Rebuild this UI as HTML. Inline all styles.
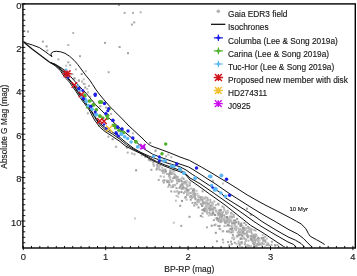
<!DOCTYPE html>
<html><head><meta charset="utf-8"><style>
html,body{margin:0;padding:0;background:#fff;width:357px;height:276px;overflow:hidden}
svg{display:block;will-change:transform}
text{font-family:"Liberation Sans",sans-serif;fill:#1a1a1a;stroke:#1a1a1a;stroke-width:0.15px}
</style></head><body>
<svg width="357" height="276" viewBox="0 0 357 276">
<defs><clipPath id="pc"><rect x="23.6" y="4.6" width="331" height="242.7"/></clipPath></defs>
<g clip-path="url(#pc)">
<rect x="171.8" y="177.4" width="2" height="2" fill="rgb(175,175,175)"/><rect x="197.1" y="199.2" width="2" height="2" fill="rgb(178,178,178)"/><rect x="207.2" y="203.4" width="2" height="2" fill="rgb(162,162,162)"/><rect x="242.8" y="232.4" width="2" height="2" fill="rgb(188,188,188)"/><rect x="148.6" y="158.9" width="2" height="2" fill="rgb(168,168,168)"/><rect x="226.7" y="209.8" width="2" height="2" fill="rgb(182,182,182)"/><rect x="205.4" y="200.4" width="2" height="2" fill="rgb(191,191,191)"/><rect x="221.0" y="214.1" width="2" height="2" fill="rgb(156,156,156)"/><rect x="191.8" y="190.7" width="2" height="2" fill="rgb(162,162,162)"/><rect x="212.9" y="219.1" width="2" height="2" fill="rgb(165,165,165)"/><rect x="238.8" y="245.0" width="2" height="2" fill="rgb(196,196,196)"/><rect x="237.7" y="222.8" width="2" height="2" fill="rgb(153,153,153)"/><rect x="240.7" y="234.2" width="2" height="2" fill="rgb(158,158,158)"/><rect x="196.1" y="203.7" width="2" height="2" fill="rgb(188,188,188)"/><rect x="226.0" y="230.5" width="2" height="2" fill="rgb(153,153,153)"/><rect x="240.6" y="228.7" width="2" height="2" fill="rgb(155,155,155)"/><rect x="243.9" y="228.4" width="2" height="2" fill="rgb(154,154,154)"/><rect x="257.8" y="242.6" width="2" height="2" fill="rgb(186,186,186)"/><rect x="211.4" y="204.7" width="2" height="2" fill="rgb(171,171,171)"/><rect x="237.7" y="242.2" width="2" height="2" fill="rgb(196,196,196)"/><rect x="217.4" y="213.6" width="2" height="2" fill="rgb(158,158,158)"/><rect x="262.5" y="236.7" width="2" height="2" fill="rgb(150,150,150)"/><rect x="173.7" y="184.4" width="2" height="2" fill="rgb(162,162,162)"/><rect x="178.4" y="179.0" width="2" height="2" fill="rgb(167,167,167)"/><rect x="209.9" y="207.2" width="2" height="2" fill="rgb(184,184,184)"/><rect x="183.5" y="181.5" width="2" height="2" fill="rgb(191,191,191)"/><rect x="230.4" y="231.4" width="2" height="2" fill="rgb(150,150,150)"/><rect x="177.0" y="179.3" width="2" height="2" fill="rgb(190,190,190)"/><rect x="194.7" y="198.4" width="2" height="2" fill="rgb(170,170,170)"/><rect x="181.0" y="199.9" width="2" height="2" fill="rgb(151,151,151)"/><rect x="238.8" y="232.9" width="2" height="2" fill="rgb(163,163,163)"/><rect x="169.5" y="170.9" width="2" height="2" fill="rgb(170,170,170)"/><rect x="209.3" y="198.9" width="2" height="2" fill="rgb(170,170,170)"/><rect x="180.0" y="178.0" width="2" height="2" fill="rgb(197,197,197)"/><rect x="214.8" y="231.8" width="2" height="2" fill="rgb(151,151,151)"/><rect x="239.4" y="228.3" width="2" height="2" fill="rgb(191,191,191)"/><rect x="184.0" y="180.6" width="2" height="2" fill="rgb(181,181,181)"/><rect x="240.5" y="242.4" width="2" height="2" fill="rgb(175,175,175)"/><rect x="161.2" y="166.7" width="2" height="2" fill="rgb(189,189,189)"/><rect x="247.2" y="230.6" width="2" height="2" fill="rgb(193,193,193)"/><rect x="225.2" y="211.3" width="2" height="2" fill="rgb(171,171,171)"/><rect x="257.9" y="237.7" width="2" height="2" fill="rgb(161,161,161)"/><rect x="235.1" y="221.3" width="2" height="2" fill="rgb(153,153,153)"/><rect x="274.0" y="244.1" width="2" height="2" fill="rgb(176,176,176)"/><rect x="228.4" y="218.7" width="2" height="2" fill="rgb(200,200,200)"/><rect x="253.6" y="237.2" width="2" height="2" fill="rgb(152,152,152)"/><rect x="247.4" y="245.0" width="2" height="2" fill="rgb(155,155,155)"/><rect x="228.3" y="244.0" width="2" height="2" fill="rgb(190,190,190)"/><rect x="235.0" y="229.1" width="2" height="2" fill="rgb(189,189,189)"/><rect x="164.5" y="169.9" width="2" height="2" fill="rgb(171,171,171)"/><rect x="184.6" y="180.4" width="2" height="2" fill="rgb(199,199,199)"/><rect x="193.7" y="195.7" width="2" height="2" fill="rgb(181,181,181)"/><rect x="187.2" y="189.3" width="2" height="2" fill="rgb(188,188,188)"/><rect x="220.3" y="218.7" width="2" height="2" fill="rgb(175,175,175)"/><rect x="209.6" y="201.2" width="2" height="2" fill="rgb(166,166,166)"/><rect x="164.5" y="169.6" width="2" height="2" fill="rgb(179,179,179)"/><rect x="194.3" y="201.9" width="2" height="2" fill="rgb(150,150,150)"/><rect x="239.7" y="238.0" width="2" height="2" fill="rgb(151,151,151)"/><rect x="191.0" y="196.8" width="2" height="2" fill="rgb(170,170,170)"/><rect x="173.4" y="190.6" width="2" height="2" fill="rgb(186,186,186)"/><rect x="224.3" y="216.0" width="2" height="2" fill="rgb(191,191,191)"/><rect x="227.0" y="241.0" width="2" height="2" fill="rgb(170,170,170)"/><rect x="231.9" y="230.5" width="2" height="2" fill="rgb(153,153,153)"/><rect x="241.2" y="224.7" width="2" height="2" fill="rgb(176,176,176)"/><rect x="226.7" y="212.0" width="2" height="2" fill="rgb(189,189,189)"/><rect x="251.6" y="234.9" width="2" height="2" fill="rgb(195,195,195)"/><rect x="263.7" y="246.0" width="2" height="2" fill="rgb(196,196,196)"/><rect x="203.0" y="197.1" width="2" height="2" fill="rgb(171,171,171)"/><rect x="216.0" y="218.4" width="2" height="2" fill="rgb(160,160,160)"/><rect x="208.6" y="208.3" width="2" height="2" fill="rgb(155,155,155)"/><rect x="239.3" y="225.2" width="2" height="2" fill="rgb(151,151,151)"/><rect x="168.9" y="171.9" width="2" height="2" fill="rgb(159,159,159)"/><rect x="250.7" y="228.4" width="2" height="2" fill="rgb(163,163,163)"/><rect x="217.1" y="202.8" width="2" height="2" fill="rgb(159,159,159)"/><rect x="205.3" y="209.3" width="2" height="2" fill="rgb(183,183,183)"/><rect x="174.9" y="190.7" width="2" height="2" fill="rgb(199,199,199)"/><rect x="162.3" y="171.6" width="2" height="2" fill="rgb(155,155,155)"/><rect x="201.3" y="198.3" width="2" height="2" fill="rgb(172,172,172)"/><rect x="173.6" y="176.1" width="2" height="2" fill="rgb(173,173,173)"/><rect x="224.2" y="222.2" width="2" height="2" fill="rgb(177,177,177)"/><rect x="175.9" y="179.7" width="2" height="2" fill="rgb(172,172,172)"/><rect x="163.3" y="169.8" width="2" height="2" fill="rgb(184,184,184)"/><rect x="237.5" y="240.3" width="2" height="2" fill="rgb(193,193,193)"/><rect x="219.4" y="228.3" width="2" height="2" fill="rgb(187,187,187)"/><rect x="182.0" y="184.5" width="2" height="2" fill="rgb(185,185,185)"/><rect x="216.2" y="216.8" width="2" height="2" fill="rgb(159,159,159)"/><rect x="172.8" y="170.3" width="2" height="2" fill="rgb(192,192,192)"/><rect x="255.2" y="233.7" width="2" height="2" fill="rgb(188,188,188)"/><rect x="166.3" y="173.0" width="2" height="2" fill="rgb(186,186,186)"/><rect x="268.0" y="244.2" width="2" height="2" fill="rgb(171,171,171)"/><rect x="176.6" y="175.9" width="2" height="2" fill="rgb(164,164,164)"/><rect x="191.7" y="192.9" width="2" height="2" fill="rgb(197,197,197)"/><rect x="211.1" y="204.3" width="2" height="2" fill="rgb(189,189,189)"/><rect x="224.7" y="221.3" width="2" height="2" fill="rgb(166,166,166)"/><rect x="168.8" y="184.1" width="2" height="2" fill="rgb(195,195,195)"/><rect x="253.8" y="245.4" width="2" height="2" fill="rgb(180,180,180)"/><rect x="232.3" y="235.9" width="2" height="2" fill="rgb(198,198,198)"/><rect x="232.9" y="219.6" width="2" height="2" fill="rgb(152,152,152)"/><rect x="244.7" y="226.9" width="2" height="2" fill="rgb(199,199,199)"/><rect x="219.6" y="214.3" width="2" height="2" fill="rgb(191,191,191)"/><rect x="204.2" y="201.5" width="2" height="2" fill="rgb(169,169,169)"/><rect x="211.0" y="208.5" width="2" height="2" fill="rgb(191,191,191)"/><rect x="234.9" y="226.2" width="2" height="2" fill="rgb(199,199,199)"/><rect x="193.8" y="195.8" width="2" height="2" fill="rgb(185,185,185)"/><rect x="223.9" y="219.9" width="2" height="2" fill="rgb(195,195,195)"/><rect x="224.1" y="219.1" width="2" height="2" fill="rgb(179,179,179)"/><rect x="175.6" y="194.9" width="2" height="2" fill="rgb(185,185,185)"/><rect x="193.2" y="193.3" width="2" height="2" fill="rgb(167,167,167)"/><rect x="203.3" y="210.2" width="2" height="2" fill="rgb(173,173,173)"/><rect x="226.2" y="220.6" width="2" height="2" fill="rgb(183,183,183)"/><rect x="217.4" y="213.2" width="2" height="2" fill="rgb(183,183,183)"/><rect x="209.5" y="213.6" width="2" height="2" fill="rgb(167,167,167)"/><rect x="189.9" y="192.0" width="2" height="2" fill="rgb(158,158,158)"/><rect x="234.8" y="228.4" width="2" height="2" fill="rgb(166,166,166)"/><rect x="192.5" y="190.3" width="2" height="2" fill="rgb(150,150,150)"/><rect x="249.5" y="228.5" width="2" height="2" fill="rgb(185,185,185)"/><rect x="186.2" y="194.1" width="2" height="2" fill="rgb(180,180,180)"/><rect x="192.5" y="190.4" width="2" height="2" fill="rgb(156,156,156)"/><rect x="247.7" y="230.4" width="2" height="2" fill="rgb(191,191,191)"/><rect x="258.7" y="239.4" width="2" height="2" fill="rgb(199,199,199)"/><rect x="176.1" y="182.3" width="2" height="2" fill="rgb(173,173,173)"/><rect x="171.2" y="172.3" width="2" height="2" fill="rgb(159,159,159)"/><rect x="160.7" y="169.7" width="2" height="2" fill="rgb(190,190,190)"/><rect x="246.3" y="235.1" width="2" height="2" fill="rgb(164,164,164)"/><rect x="251.8" y="240.9" width="2" height="2" fill="rgb(175,175,175)"/><rect x="223.3" y="219.4" width="2" height="2" fill="rgb(198,198,198)"/><rect x="228.1" y="221.5" width="2" height="2" fill="rgb(155,155,155)"/><rect x="254.6" y="239.5" width="2" height="2" fill="rgb(151,151,151)"/><rect x="188.1" y="192.6" width="2" height="2" fill="rgb(189,189,189)"/><rect x="274.2" y="244.6" width="2" height="2" fill="rgb(158,158,158)"/><rect x="208.4" y="211.6" width="2" height="2" fill="rgb(157,157,157)"/><rect x="152.3" y="161.2" width="2" height="2" fill="rgb(153,153,153)"/><rect x="176.4" y="190.3" width="2" height="2" fill="rgb(184,184,184)"/><rect x="155.8" y="163.8" width="2" height="2" fill="rgb(182,182,182)"/><rect x="164.3" y="168.6" width="2" height="2" fill="rgb(163,163,163)"/><rect x="219.2" y="221.2" width="2" height="2" fill="rgb(185,185,185)"/><rect x="183.4" y="182.8" width="2" height="2" fill="rgb(199,199,199)"/><rect x="238.5" y="243.7" width="2" height="2" fill="rgb(161,161,161)"/><rect x="243.5" y="232.9" width="2" height="2" fill="rgb(166,166,166)"/><rect x="162.0" y="171.9" width="2" height="2" fill="rgb(188,188,188)"/><rect x="261.1" y="242.3" width="2" height="2" fill="rgb(173,173,173)"/><rect x="261.6" y="233.9" width="2" height="2" fill="rgb(197,197,197)"/><rect x="251.7" y="236.3" width="2" height="2" fill="rgb(159,159,159)"/><rect x="193.2" y="204.5" width="2" height="2" fill="rgb(161,161,161)"/><rect x="252.9" y="229.0" width="2" height="2" fill="rgb(197,197,197)"/><rect x="260.7" y="244.1" width="2" height="2" fill="rgb(199,199,199)"/><rect x="200.1" y="197.8" width="2" height="2" fill="rgb(160,160,160)"/><rect x="240.8" y="241.0" width="2" height="2" fill="rgb(183,183,183)"/><rect x="180.5" y="191.1" width="2" height="2" fill="rgb(151,151,151)"/><rect x="218.4" y="210.5" width="2" height="2" fill="rgb(172,172,172)"/><rect x="217.3" y="209.5" width="2" height="2" fill="rgb(199,199,199)"/><rect x="179.7" y="184.0" width="2" height="2" fill="rgb(195,195,195)"/><rect x="205.6" y="205.9" width="2" height="2" fill="rgb(165,165,165)"/><rect x="266.4" y="242.8" width="2" height="2" fill="rgb(178,178,178)"/><rect x="247.5" y="235.0" width="2" height="2" fill="rgb(181,181,181)"/><rect x="263.0" y="242.9" width="2" height="2" fill="rgb(163,163,163)"/><rect x="162.8" y="175.7" width="2" height="2" fill="rgb(190,190,190)"/><rect x="185.0" y="187.3" width="2" height="2" fill="rgb(172,172,172)"/><rect x="217.6" y="212.7" width="2" height="2" fill="rgb(174,174,174)"/><rect x="176.3" y="178.8" width="2" height="2" fill="rgb(179,179,179)"/><rect x="223.2" y="214.3" width="2" height="2" fill="rgb(163,163,163)"/><rect x="184.7" y="196.0" width="2" height="2" fill="rgb(170,170,170)"/><rect x="258.8" y="243.9" width="2" height="2" fill="rgb(200,200,200)"/><rect x="189.8" y="195.1" width="2" height="2" fill="rgb(151,151,151)"/><rect x="252.5" y="236.5" width="2" height="2" fill="rgb(156,156,156)"/><rect x="262.1" y="240.0" width="2" height="2" fill="rgb(192,192,192)"/><rect x="211.9" y="212.4" width="2" height="2" fill="rgb(196,196,196)"/><rect x="170.1" y="172.8" width="2" height="2" fill="rgb(150,150,150)"/><rect x="253.0" y="243.3" width="2" height="2" fill="rgb(154,154,154)"/><rect x="248.8" y="228.7" width="2" height="2" fill="rgb(191,191,191)"/><rect x="252.2" y="236.4" width="2" height="2" fill="rgb(175,175,175)"/><rect x="233.8" y="223.0" width="2" height="2" fill="rgb(193,193,193)"/><rect x="251.4" y="238.8" width="2" height="2" fill="rgb(172,172,172)"/><rect x="224.3" y="221.0" width="2" height="2" fill="rgb(153,153,153)"/><rect x="261.9" y="242.6" width="2" height="2" fill="rgb(164,164,164)"/><rect x="181.4" y="176.6" width="2" height="2" fill="rgb(186,186,186)"/><rect x="250.6" y="238.4" width="2" height="2" fill="rgb(174,174,174)"/><rect x="254.0" y="241.2" width="2" height="2" fill="rgb(176,176,176)"/><rect x="267.1" y="242.5" width="2" height="2" fill="rgb(174,174,174)"/><rect x="174.3" y="183.8" width="2" height="2" fill="rgb(192,192,192)"/><rect x="256.9" y="239.6" width="2" height="2" fill="rgb(190,190,190)"/><rect x="242.7" y="226.7" width="2" height="2" fill="rgb(164,164,164)"/><rect x="197.5" y="206.5" width="2" height="2" fill="rgb(151,151,151)"/><rect x="173.0" y="176.9" width="2" height="2" fill="rgb(166,166,166)"/><rect x="161.6" y="169.5" width="2" height="2" fill="rgb(151,151,151)"/><rect x="246.2" y="235.0" width="2" height="2" fill="rgb(166,166,166)"/><rect x="226.5" y="217.1" width="2" height="2" fill="rgb(195,195,195)"/><rect x="210.7" y="207.9" width="2" height="2" fill="rgb(177,177,177)"/><rect x="201.5" y="212.4" width="2" height="2" fill="rgb(165,165,165)"/><rect x="231.9" y="230.6" width="2" height="2" fill="rgb(164,164,164)"/><rect x="223.4" y="220.0" width="2" height="2" fill="rgb(172,172,172)"/><rect x="169.3" y="169.5" width="2" height="2" fill="rgb(163,163,163)"/><rect x="217.5" y="203.6" width="2" height="2" fill="rgb(170,170,170)"/><rect x="199.3" y="196.3" width="2" height="2" fill="rgb(198,198,198)"/><rect x="241.0" y="246.1" width="2" height="2" fill="rgb(177,177,177)"/><rect x="248.9" y="230.6" width="2" height="2" fill="rgb(191,191,191)"/><rect x="265.7" y="244.2" width="2" height="2" fill="rgb(167,167,167)"/><rect x="240.0" y="233.2" width="2" height="2" fill="rgb(169,169,169)"/><rect x="239.8" y="241.4" width="2" height="2" fill="rgb(181,181,181)"/><rect x="147.8" y="158.6" width="2" height="2" fill="rgb(163,163,163)"/><rect x="222.1" y="211.1" width="2" height="2" fill="rgb(186,186,186)"/><rect x="219.3" y="213.9" width="2" height="2" fill="rgb(200,200,200)"/><rect x="173.5" y="176.2" width="2" height="2" fill="rgb(160,160,160)"/><rect x="180.1" y="184.7" width="2" height="2" fill="rgb(180,180,180)"/><rect x="181.5" y="186.2" width="2" height="2" fill="rgb(199,199,199)"/><rect x="162.8" y="181.5" width="2" height="2" fill="rgb(167,167,167)"/><rect x="190.5" y="191.5" width="2" height="2" fill="rgb(198,198,198)"/><rect x="181.8" y="182.2" width="2" height="2" fill="rgb(158,158,158)"/><rect x="242.0" y="226.9" width="2" height="2" fill="rgb(169,169,169)"/><rect x="186.2" y="193.7" width="2" height="2" fill="rgb(168,168,168)"/><rect x="264.1" y="239.4" width="2" height="2" fill="rgb(155,155,155)"/><rect x="230.8" y="228.9" width="2" height="2" fill="rgb(171,171,171)"/><rect x="218.6" y="224.9" width="2" height="2" fill="rgb(150,150,150)"/><rect x="250.0" y="229.4" width="2" height="2" fill="rgb(181,181,181)"/><rect x="200.7" y="197.3" width="2" height="2" fill="rgb(165,165,165)"/><rect x="229.5" y="218.7" width="2" height="2" fill="rgb(160,160,160)"/><rect x="231.7" y="222.0" width="2" height="2" fill="rgb(170,170,170)"/><rect x="204.8" y="205.8" width="2" height="2" fill="rgb(193,193,193)"/><rect x="202.9" y="208.6" width="2" height="2" fill="rgb(189,189,189)"/><rect x="192.4" y="190.0" width="2" height="2" fill="rgb(188,188,188)"/><rect x="194.5" y="194.4" width="2" height="2" fill="rgb(178,178,178)"/><rect x="178.2" y="191.2" width="2" height="2" fill="rgb(163,163,163)"/><rect x="196.4" y="192.7" width="2" height="2" fill="rgb(187,187,187)"/><rect x="201.3" y="196.5" width="2" height="2" fill="rgb(153,153,153)"/><rect x="211.7" y="209.6" width="2" height="2" fill="rgb(200,200,200)"/><rect x="184.3" y="196.7" width="2" height="2" fill="rgb(163,163,163)"/><rect x="198.8" y="195.9" width="2" height="2" fill="rgb(197,197,197)"/><rect x="241.3" y="232.3" width="2" height="2" fill="rgb(173,173,173)"/><rect x="234.4" y="219.4" width="2" height="2" fill="rgb(152,152,152)"/><rect x="241.4" y="225.2" width="2" height="2" fill="rgb(199,199,199)"/><rect x="232.5" y="221.9" width="2" height="2" fill="rgb(199,199,199)"/><rect x="250.8" y="236.3" width="2" height="2" fill="rgb(178,178,178)"/><rect x="156.5" y="165.5" width="2" height="2" fill="rgb(161,161,161)"/><rect x="199.8" y="196.1" width="2" height="2" fill="rgb(177,177,177)"/><rect x="220.1" y="214.0" width="2" height="2" fill="rgb(158,158,158)"/><rect x="219.9" y="209.5" width="2" height="2" fill="rgb(169,169,169)"/><rect x="205.2" y="208.9" width="2" height="2" fill="rgb(193,193,193)"/><rect x="247.1" y="226.2" width="2" height="2" fill="rgb(151,151,151)"/><rect x="187.2" y="189.6" width="2" height="2" fill="rgb(157,157,157)"/><rect x="230.4" y="220.6" width="2" height="2" fill="rgb(159,159,159)"/><rect x="201.0" y="204.3" width="2" height="2" fill="rgb(150,150,150)"/><rect x="174.7" y="176.2" width="2" height="2" fill="rgb(158,158,158)"/><rect x="211.2" y="207.5" width="2" height="2" fill="rgb(169,169,169)"/><rect x="205.3" y="204.7" width="2" height="2" fill="rgb(159,159,159)"/><rect x="223.2" y="208.3" width="2" height="2" fill="rgb(182,182,182)"/><rect x="171.6" y="169.1" width="2" height="2" fill="rgb(197,197,197)"/><rect x="238.2" y="233.7" width="2" height="2" fill="rgb(172,172,172)"/><rect x="206.2" y="201.9" width="2" height="2" fill="rgb(156,156,156)"/><rect x="226.0" y="210.5" width="2" height="2" fill="rgb(198,198,198)"/><rect x="179.3" y="185.8" width="2" height="2" fill="rgb(160,160,160)"/><rect x="257.4" y="240.9" width="2" height="2" fill="rgb(179,179,179)"/><rect x="204.6" y="196.2" width="2" height="2" fill="rgb(193,193,193)"/><rect x="234.1" y="227.8" width="2" height="2" fill="rgb(175,175,175)"/><rect x="240.0" y="224.6" width="2" height="2" fill="rgb(155,155,155)"/><rect x="227.3" y="220.8" width="2" height="2" fill="rgb(176,176,176)"/><rect x="155.9" y="167.3" width="2" height="2" fill="rgb(171,171,171)"/><rect x="157.7" y="167.9" width="2" height="2" fill="rgb(191,191,191)"/><rect x="232.8" y="215.6" width="2" height="2" fill="rgb(192,192,192)"/><rect x="214.8" y="217.3" width="2" height="2" fill="rgb(195,195,195)"/><rect x="230.3" y="225.2" width="2" height="2" fill="rgb(175,175,175)"/><rect x="256.2" y="243.4" width="2" height="2" fill="rgb(171,171,171)"/><rect x="164.6" y="170.8" width="2" height="2" fill="rgb(152,152,152)"/><rect x="227.4" y="220.6" width="2" height="2" fill="rgb(187,187,187)"/><rect x="236.6" y="234.7" width="2" height="2" fill="rgb(165,165,165)"/><rect x="201.5" y="209.0" width="2" height="2" fill="rgb(162,162,162)"/><rect x="201.6" y="215.9" width="2" height="2" fill="rgb(200,200,200)"/><rect x="206.4" y="202.7" width="2" height="2" fill="rgb(190,190,190)"/><rect x="177.3" y="179.5" width="2" height="2" fill="rgb(194,194,194)"/><rect x="221.1" y="215.3" width="2" height="2" fill="rgb(150,150,150)"/><rect x="231.4" y="215.8" width="2" height="2" fill="rgb(152,152,152)"/><rect x="243.1" y="228.4" width="2" height="2" fill="rgb(158,158,158)"/><rect x="255.9" y="238.2" width="2" height="2" fill="rgb(182,182,182)"/><rect x="229.1" y="231.3" width="2" height="2" fill="rgb(188,188,188)"/><rect x="201.7" y="209.0" width="2" height="2" fill="rgb(164,164,164)"/><rect x="168.7" y="176.9" width="2" height="2" fill="rgb(186,186,186)"/><rect x="185.4" y="181.9" width="2" height="2" fill="rgb(177,177,177)"/><rect x="239.5" y="231.7" width="2" height="2" fill="rgb(194,194,194)"/><rect x="201.5" y="199.4" width="2" height="2" fill="rgb(156,156,156)"/><rect x="234.7" y="228.4" width="2" height="2" fill="rgb(196,196,196)"/><rect x="240.3" y="222.5" width="2" height="2" fill="rgb(151,151,151)"/><rect x="168.2" y="173.2" width="2" height="2" fill="rgb(153,153,153)"/><rect x="230.7" y="216.0" width="2" height="2" fill="rgb(170,170,170)"/><rect x="228.8" y="215.8" width="2" height="2" fill="rgb(154,154,154)"/><rect x="205.7" y="208.7" width="2" height="2" fill="rgb(157,157,157)"/><rect x="254.0" y="235.7" width="2" height="2" fill="rgb(157,157,157)"/><rect x="249.7" y="235.5" width="2" height="2" fill="rgb(181,181,181)"/><rect x="257.1" y="236.8" width="2" height="2" fill="rgb(158,158,158)"/><rect x="198.9" y="198.7" width="2" height="2" fill="rgb(183,183,183)"/><rect x="167.6" y="179.9" width="2" height="2" fill="rgb(177,177,177)"/><rect x="220.7" y="212.2" width="2" height="2" fill="rgb(150,150,150)"/><rect x="240.0" y="223.7" width="2" height="2" fill="rgb(161,161,161)"/><rect x="250.2" y="235.2" width="2" height="2" fill="rgb(164,164,164)"/><rect x="228.7" y="216.4" width="2" height="2" fill="rgb(193,193,193)"/><rect x="203.7" y="197.8" width="2" height="2" fill="rgb(184,184,184)"/><rect x="182.6" y="177.8" width="2" height="2" fill="rgb(159,159,159)"/><rect x="253.5" y="245.3" width="2" height="2" fill="rgb(190,190,190)"/><rect x="230.2" y="219.5" width="2" height="2" fill="rgb(197,197,197)"/><rect x="172.2" y="184.0" width="2" height="2" fill="rgb(184,184,184)"/><rect x="229.4" y="215.4" width="2" height="2" fill="rgb(182,182,182)"/><rect x="219.1" y="209.1" width="2" height="2" fill="rgb(157,157,157)"/><rect x="261.2" y="237.5" width="2" height="2" fill="rgb(183,183,183)"/><rect x="199.9" y="203.1" width="2" height="2" fill="rgb(172,172,172)"/><rect x="227.6" y="218.4" width="2" height="2" fill="rgb(181,181,181)"/><rect x="239.8" y="223.7" width="2" height="2" fill="rgb(154,154,154)"/><rect x="204.4" y="210.1" width="2" height="2" fill="rgb(172,172,172)"/><rect x="228.0" y="224.6" width="2" height="2" fill="rgb(163,163,163)"/><rect x="181.8" y="187.6" width="2" height="2" fill="rgb(164,164,164)"/><rect x="203.1" y="208.0" width="2" height="2" fill="rgb(196,196,196)"/><rect x="213.6" y="224.2" width="2" height="2" fill="rgb(154,154,154)"/><rect x="264.5" y="240.9" width="2" height="2" fill="rgb(167,167,167)"/><rect x="205.4" y="199.7" width="2" height="2" fill="rgb(195,195,195)"/><rect x="200.3" y="196.8" width="2" height="2" fill="rgb(161,161,161)"/><rect x="170.6" y="180.6" width="2" height="2" fill="rgb(150,150,150)"/><rect x="178.1" y="180.3" width="2" height="2" fill="rgb(166,166,166)"/><rect x="270.9" y="240.8" width="2" height="2" fill="rgb(167,167,167)"/><rect x="188.8" y="184.4" width="2" height="2" fill="rgb(154,154,154)"/><rect x="248.5" y="227.4" width="2" height="2" fill="rgb(152,152,152)"/><rect x="193.6" y="192.3" width="2" height="2" fill="rgb(162,162,162)"/><rect x="187.6" y="192.2" width="2" height="2" fill="rgb(182,182,182)"/><rect x="238.3" y="229.9" width="2" height="2" fill="rgb(153,153,153)"/><rect x="236.6" y="231.6" width="2" height="2" fill="rgb(176,176,176)"/><rect x="189.1" y="187.9" width="2" height="2" fill="rgb(200,200,200)"/><rect x="165.9" y="173.0" width="2" height="2" fill="rgb(185,185,185)"/><rect x="192.9" y="188.1" width="2" height="2" fill="rgb(173,173,173)"/><rect x="230.1" y="211.9" width="2" height="2" fill="rgb(167,167,167)"/><rect x="239.7" y="237.3" width="2" height="2" fill="rgb(150,150,150)"/><rect x="217.1" y="211.6" width="2" height="2" fill="rgb(170,170,170)"/><rect x="185.9" y="179.7" width="2" height="2" fill="rgb(194,194,194)"/><rect x="260.6" y="237.1" width="2" height="2" fill="rgb(152,152,152)"/><rect x="223.0" y="206.7" width="2" height="2" fill="rgb(191,191,191)"/><rect x="221.0" y="212.9" width="2" height="2" fill="rgb(179,179,179)"/><rect x="185.6" y="198.7" width="2" height="2" fill="rgb(184,184,184)"/><rect x="202.3" y="201.2" width="2" height="2" fill="rgb(168,168,168)"/><rect x="197.6" y="194.8" width="2" height="2" fill="rgb(185,185,185)"/><rect x="182.9" y="192.1" width="2" height="2" fill="rgb(171,171,171)"/><rect x="191.3" y="192.2" width="2" height="2" fill="rgb(194,194,194)"/><rect x="211.1" y="212.5" width="2" height="2" fill="rgb(176,176,176)"/><rect x="262.9" y="242.9" width="2" height="2" fill="rgb(197,197,197)"/><rect x="223.6" y="209.6" width="2" height="2" fill="rgb(195,195,195)"/><rect x="221.3" y="214.3" width="2" height="2" fill="rgb(167,167,167)"/><rect x="197.6" y="196.6" width="2" height="2" fill="rgb(175,175,175)"/><rect x="222.8" y="218.0" width="2" height="2" fill="rgb(177,177,177)"/><rect x="168.1" y="181.7" width="2" height="2" fill="rgb(170,170,170)"/><rect x="183.5" y="187.5" width="2" height="2" fill="rgb(184,184,184)"/><rect x="243.6" y="229.2" width="2" height="2" fill="rgb(176,176,176)"/><rect x="189.1" y="195.9" width="2" height="2" fill="rgb(174,174,174)"/><rect x="212.2" y="211.4" width="2" height="2" fill="rgb(159,159,159)"/><rect x="218.7" y="209.4" width="2" height="2" fill="rgb(174,174,174)"/><rect x="255.7" y="235.2" width="2" height="2" fill="rgb(198,198,198)"/><rect x="253.6" y="238.9" width="2" height="2" fill="rgb(174,174,174)"/><rect x="225.1" y="211.8" width="2" height="2" fill="rgb(176,176,176)"/><rect x="204.8" y="207.5" width="2" height="2" fill="rgb(159,159,159)"/><rect x="218.8" y="215.7" width="2" height="2" fill="rgb(190,190,190)"/><rect x="212.2" y="212.7" width="2" height="2" fill="rgb(150,150,150)"/><rect x="231.1" y="222.6" width="2" height="2" fill="rgb(165,165,165)"/><rect x="233.9" y="223.8" width="2" height="2" fill="rgb(188,188,188)"/><rect x="221.8" y="211.5" width="2" height="2" fill="rgb(182,182,182)"/><rect x="191.5" y="201.9" width="2" height="2" fill="rgb(166,166,166)"/><rect x="167.9" y="175.1" width="2" height="2" fill="rgb(194,194,194)"/><rect x="245.7" y="227.5" width="2" height="2" fill="rgb(189,189,189)"/><rect x="249.9" y="245.0" width="2" height="2" fill="rgb(196,196,196)"/><rect x="181.3" y="186.5" width="2" height="2" fill="rgb(174,174,174)"/><rect x="149.8" y="159.6" width="2" height="2" fill="rgb(165,165,165)"/><rect x="219.9" y="219.6" width="2" height="2" fill="rgb(162,162,162)"/><rect x="223.0" y="217.5" width="2" height="2" fill="rgb(192,192,192)"/><rect x="208.8" y="208.7" width="2" height="2" fill="rgb(157,157,157)"/><rect x="236.2" y="217.9" width="2" height="2" fill="rgb(155,155,155)"/><rect x="238.9" y="228.2" width="2" height="2" fill="rgb(189,189,189)"/><rect x="187.2" y="194.1" width="2" height="2" fill="rgb(200,200,200)"/><rect x="219.6" y="208.9" width="2" height="2" fill="rgb(152,152,152)"/><rect x="244.1" y="241.3" width="2" height="2" fill="rgb(195,195,195)"/><rect x="219.3" y="216.4" width="2" height="2" fill="rgb(153,153,153)"/><rect x="247.7" y="244.7" width="2" height="2" fill="rgb(175,175,175)"/><rect x="231.4" y="227.2" width="2" height="2" fill="rgb(194,194,194)"/><rect x="190.6" y="187.5" width="2" height="2" fill="rgb(185,185,185)"/><rect x="218.4" y="227.6" width="2" height="2" fill="rgb(170,170,170)"/><rect x="212.0" y="202.9" width="2" height="2" fill="rgb(193,193,193)"/><rect x="207.7" y="214.5" width="2" height="2" fill="rgb(191,191,191)"/><rect x="166.0" y="179.7" width="2" height="2" fill="rgb(178,178,178)"/><rect x="244.9" y="240.0" width="2" height="2" fill="rgb(185,185,185)"/><rect x="204.0" y="206.5" width="2" height="2" fill="rgb(192,192,192)"/><rect x="235.4" y="225.5" width="2" height="2" fill="rgb(170,170,170)"/><rect x="214.6" y="223.5" width="2" height="2" fill="rgb(179,179,179)"/><rect x="235.8" y="235.2" width="2" height="2" fill="rgb(186,186,186)"/><rect x="193.5" y="193.1" width="2" height="2" fill="rgb(150,150,150)"/><rect x="186.5" y="185.5" width="2" height="2" fill="rgb(180,180,180)"/><rect x="233.3" y="225.1" width="2" height="2" fill="rgb(197,197,197)"/><rect x="206.2" y="205.5" width="2" height="2" fill="rgb(191,191,191)"/><rect x="244.0" y="233.2" width="2" height="2" fill="rgb(180,180,180)"/><rect x="204.9" y="202.4" width="2" height="2" fill="rgb(182,182,182)"/><rect x="241.1" y="241.5" width="2" height="2" fill="rgb(171,171,171)"/><rect x="237.7" y="228.3" width="2" height="2" fill="rgb(187,187,187)"/><rect x="159.0" y="164.7" width="2" height="2" fill="rgb(184,184,184)"/><rect x="241.6" y="237.7" width="2" height="2" fill="rgb(174,174,174)"/><rect x="221.5" y="205.6" width="2" height="2" fill="rgb(165,165,165)"/><rect x="231.4" y="213.0" width="2" height="2" fill="rgb(190,190,190)"/><rect x="157.4" y="166.8" width="2" height="2" fill="rgb(200,200,200)"/><rect x="173.4" y="170.4" width="2" height="2" fill="rgb(197,197,197)"/><rect x="227.8" y="230.2" width="2" height="2" fill="rgb(174,174,174)"/><rect x="217.2" y="225.0" width="2" height="2" fill="rgb(172,172,172)"/><rect x="225.8" y="221.8" width="2" height="2" fill="rgb(195,195,195)"/><rect x="201.3" y="204.9" width="2" height="2" fill="rgb(154,154,154)"/><rect x="161.8" y="170.5" width="2" height="2" fill="rgb(175,175,175)"/><rect x="162.8" y="168.6" width="2" height="2" fill="rgb(183,183,183)"/><rect x="217.6" y="213.8" width="2" height="2" fill="rgb(167,167,167)"/><rect x="237.6" y="233.3" width="2" height="2" fill="rgb(189,189,189)"/><rect x="232.2" y="230.8" width="2" height="2" fill="rgb(192,192,192)"/><rect x="241.0" y="228.8" width="2" height="2" fill="rgb(193,193,193)"/><rect x="212.4" y="208.7" width="2" height="2" fill="rgb(170,170,170)"/><rect x="226.3" y="217.5" width="2" height="2" fill="rgb(154,154,154)"/><rect x="246.4" y="230.5" width="2" height="2" fill="rgb(190,190,190)"/><rect x="225.5" y="212.8" width="2" height="2" fill="rgb(184,184,184)"/><rect x="191.8" y="193.2" width="2" height="2" fill="rgb(192,192,192)"/><rect x="246.9" y="236.3" width="2" height="2" fill="rgb(164,164,164)"/><rect x="246.3" y="244.8" width="2" height="2" fill="rgb(189,189,189)"/><rect x="236.5" y="227.1" width="2" height="2" fill="rgb(198,198,198)"/><rect x="240.1" y="229.7" width="2" height="2" fill="rgb(166,166,166)"/><rect x="244.3" y="237.9" width="2" height="2" fill="rgb(166,166,166)"/><rect x="221.3" y="217.3" width="2" height="2" fill="rgb(180,180,180)"/><rect x="163.1" y="172.2" width="2" height="2" fill="rgb(196,196,196)"/><rect x="213.5" y="207.1" width="2" height="2" fill="rgb(172,172,172)"/><rect x="152.8" y="164.8" width="2" height="2" fill="rgb(183,183,183)"/><rect x="225.6" y="219.5" width="2" height="2" fill="rgb(187,187,187)"/><rect x="233.5" y="227.5" width="2" height="2" fill="rgb(180,180,180)"/><rect x="239.2" y="230.7" width="2" height="2" fill="rgb(186,186,186)"/><rect x="249.7" y="237.8" width="2" height="2" fill="rgb(164,164,164)"/><rect x="252.9" y="233.8" width="2" height="2" fill="rgb(159,159,159)"/><rect x="188.8" y="181.8" width="2" height="2" fill="rgb(154,154,154)"/><rect x="195.6" y="189.9" width="2" height="2" fill="rgb(198,198,198)"/><rect x="248.0" y="228.1" width="2" height="2" fill="rgb(183,183,183)"/><rect x="239.5" y="242.3" width="2" height="2" fill="rgb(173,173,173)"/><rect x="198.7" y="199.3" width="2" height="2" fill="rgb(183,183,183)"/><rect x="257.2" y="243.6" width="2" height="2" fill="rgb(163,163,163)"/><rect x="232.6" y="216.0" width="2" height="2" fill="rgb(183,183,183)"/><rect x="205.9" y="203.4" width="2" height="2" fill="rgb(160,160,160)"/><rect x="231.0" y="216.4" width="2" height="2" fill="rgb(173,173,173)"/><rect x="193.4" y="194.8" width="2" height="2" fill="rgb(165,165,165)"/><rect x="186.3" y="185.8" width="2" height="2" fill="rgb(193,193,193)"/><rect x="237.4" y="220.9" width="2" height="2" fill="rgb(161,161,161)"/><rect x="168.2" y="184.0" width="2" height="2" fill="rgb(159,159,159)"/><rect x="221.6" y="230.5" width="2" height="2" fill="rgb(192,192,192)"/><rect x="245.1" y="224.0" width="2" height="2" fill="rgb(179,179,179)"/><rect x="150.4" y="168.8" width="2" height="2" fill="rgb(161,161,161)"/><rect x="246.3" y="226.9" width="2" height="2" fill="rgb(190,190,190)"/><rect x="248.3" y="227.9" width="2" height="2" fill="rgb(191,191,191)"/><rect x="258.7" y="242.7" width="2" height="2" fill="rgb(152,152,152)"/><rect x="209.7" y="209.2" width="2" height="2" fill="rgb(170,170,170)"/><rect x="186.1" y="188.6" width="2" height="2" fill="rgb(174,174,174)"/><rect x="270.5" y="243.9" width="2" height="2" fill="rgb(173,173,173)"/><rect x="231.2" y="227.4" width="2" height="2" fill="rgb(177,177,177)"/><rect x="241.5" y="235.1" width="2" height="2" fill="rgb(157,157,157)"/><rect x="213.8" y="213.9" width="2" height="2" fill="rgb(176,176,176)"/><rect x="202.9" y="208.0" width="2" height="2" fill="rgb(159,159,159)"/><rect x="251.8" y="241.9" width="2" height="2" fill="rgb(194,194,194)"/><rect x="252.4" y="242.5" width="2" height="2" fill="rgb(166,166,166)"/><rect x="206.8" y="199.0" width="2" height="2" fill="rgb(174,174,174)"/><rect x="173.8" y="173.7" width="2" height="2" fill="rgb(156,156,156)"/><rect x="227.4" y="230.5" width="2" height="2" fill="rgb(173,173,173)"/><rect x="185.9" y="191.5" width="2" height="2" fill="rgb(172,172,172)"/><rect x="207.7" y="207.1" width="2" height="2" fill="rgb(192,192,192)"/><rect x="250.9" y="232.8" width="2" height="2" fill="rgb(183,183,183)"/><rect x="197.5" y="201.3" width="2" height="2" fill="rgb(183,183,183)"/><rect x="254.7" y="233.7" width="2" height="2" fill="rgb(169,169,169)"/><rect x="258.6" y="242.8" width="2" height="2" fill="rgb(178,178,178)"/><rect x="214.3" y="207.5" width="2" height="2" fill="rgb(192,192,192)"/><rect x="217.5" y="220.1" width="2" height="2" fill="rgb(155,155,155)"/><rect x="232.7" y="222.2" width="2" height="2" fill="rgb(167,167,167)"/><rect x="232.8" y="238.2" width="2" height="2" fill="rgb(175,175,175)"/><rect x="246.3" y="233.7" width="2" height="2" fill="rgb(168,168,168)"/><rect x="194.6" y="202.9" width="2" height="2" fill="rgb(178,178,178)"/><rect x="226.0" y="224.7" width="2" height="2" fill="rgb(194,194,194)"/><rect x="184.9" y="190.6" width="2" height="2" fill="rgb(157,157,157)"/><rect x="216.4" y="218.5" width="2" height="2" fill="rgb(178,178,178)"/><rect x="185.5" y="183.6" width="2" height="2" fill="rgb(190,190,190)"/><rect x="223.5" y="225.1" width="2" height="2" fill="rgb(180,180,180)"/><rect x="205.6" y="203.9" width="2" height="2" fill="rgb(196,196,196)"/><rect x="262.4" y="238.8" width="2" height="2" fill="rgb(161,161,161)"/><rect x="235.7" y="242.8" width="2" height="2" fill="rgb(198,198,198)"/><rect x="245.3" y="238.8" width="2" height="2" fill="rgb(183,183,183)"/><rect x="194.2" y="197.3" width="2" height="2" fill="rgb(159,159,159)"/><rect x="211.2" y="213.7" width="2" height="2" fill="rgb(150,150,150)"/><rect x="171.1" y="185.3" width="2" height="2" fill="rgb(193,193,193)"/><rect x="243.9" y="243.3" width="2" height="2" fill="rgb(158,158,158)"/><rect x="193.4" y="189.3" width="2" height="2" fill="rgb(173,173,173)"/><rect x="255.7" y="244.8" width="2" height="2" fill="rgb(181,181,181)"/><rect x="204.7" y="196.8" width="2" height="2" fill="rgb(183,183,183)"/><rect x="228.8" y="228.5" width="2" height="2" fill="rgb(192,192,192)"/><rect x="252.3" y="235.5" width="2" height="2" fill="rgb(165,165,165)"/><rect x="201.0" y="196.7" width="2" height="2" fill="rgb(189,189,189)"/><rect x="152.5" y="163.4" width="2" height="2" fill="rgb(173,173,173)"/><rect x="205.4" y="209.6" width="2" height="2" fill="rgb(183,183,183)"/><rect x="237.7" y="230.7" width="2" height="2" fill="rgb(171,171,171)"/><rect x="190.6" y="195.3" width="2" height="2" fill="rgb(174,174,174)"/><rect x="207.6" y="203.2" width="2" height="2" fill="rgb(166,166,166)"/><rect x="233.3" y="222.2" width="2" height="2" fill="rgb(151,151,151)"/><rect x="140.7" y="154.3" width="2" height="2" fill="rgb(185,185,185)"/><rect x="207.9" y="207.1" width="2" height="2" fill="rgb(162,162,162)"/><rect x="216.4" y="217.7" width="2" height="2" fill="rgb(150,150,150)"/><rect x="214.9" y="204.0" width="2" height="2" fill="rgb(186,186,186)"/><rect x="201.6" y="190.3" width="2" height="2" fill="rgb(166,166,166)"/><rect x="192.0" y="189.3" width="2" height="2" fill="rgb(153,153,153)"/><rect x="172.5" y="169.7" width="2" height="2" fill="rgb(187,187,187)"/><rect x="229.4" y="228.0" width="2" height="2" fill="rgb(161,161,161)"/><rect x="217.9" y="218.0" width="2" height="2" fill="rgb(169,169,169)"/><rect x="172.2" y="169.1" width="2" height="2" fill="rgb(195,195,195)"/><rect x="182.1" y="180.9" width="2" height="2" fill="rgb(184,184,184)"/><rect x="201.7" y="201.8" width="2" height="2" fill="rgb(167,167,167)"/><rect x="196.9" y="199.0" width="2" height="2" fill="rgb(170,170,170)"/><rect x="177.7" y="180.2" width="2" height="2" fill="rgb(166,166,166)"/><rect x="156.7" y="163.7" width="2" height="2" fill="rgb(165,165,165)"/><rect x="219.0" y="212.4" width="2" height="2" fill="rgb(166,166,166)"/><rect x="222.2" y="230.0" width="2" height="2" fill="rgb(178,178,178)"/><rect x="242.2" y="226.9" width="2" height="2" fill="rgb(155,155,155)"/><rect x="191.9" y="196.0" width="2" height="2" fill="rgb(183,183,183)"/><rect x="223.8" y="216.8" width="2" height="2" fill="rgb(190,190,190)"/><rect x="243.0" y="236.7" width="2" height="2" fill="rgb(181,181,181)"/><rect x="213.4" y="206.6" width="2" height="2" fill="rgb(155,155,155)"/><rect x="231.9" y="233.9" width="2" height="2" fill="rgb(162,162,162)"/><rect x="202.9" y="202.5" width="2" height="2" fill="rgb(158,158,158)"/><rect x="186.5" y="184.2" width="2" height="2" fill="rgb(177,177,177)"/><rect x="188.1" y="181.2" width="2" height="2" fill="rgb(200,200,200)"/><rect x="168.3" y="174.6" width="2" height="2" fill="rgb(168,168,168)"/><rect x="171.4" y="173.1" width="2" height="2" fill="rgb(189,189,189)"/><rect x="265.9" y="237.6" width="2" height="2" fill="rgb(199,199,199)"/><rect x="206.2" y="212.4" width="2" height="2" fill="rgb(173,173,173)"/><rect x="226.0" y="216.0" width="2" height="2" fill="rgb(152,152,152)"/><rect x="206.2" y="208.8" width="2" height="2" fill="rgb(195,195,195)"/><rect x="228.6" y="219.6" width="2" height="2" fill="rgb(178,178,178)"/><rect x="175.0" y="175.2" width="2" height="2" fill="rgb(174,174,174)"/><rect x="215.0" y="209.7" width="2" height="2" fill="rgb(173,173,173)"/><rect x="239.0" y="230.5" width="2" height="2" fill="rgb(152,152,152)"/><rect x="171.7" y="180.0" width="2" height="2" fill="rgb(195,195,195)"/><rect x="239.2" y="229.9" width="2" height="2" fill="rgb(198,198,198)"/><rect x="245.6" y="232.0" width="2" height="2" fill="rgb(168,168,168)"/><rect x="225.4" y="221.2" width="2" height="2" fill="rgb(176,176,176)"/><rect x="219.9" y="221.0" width="2" height="2" fill="rgb(177,177,177)"/><rect x="172.9" y="173.0" width="2" height="2" fill="rgb(191,191,191)"/><rect x="247.5" y="239.8" width="2" height="2" fill="rgb(188,188,188)"/><rect x="220.3" y="220.1" width="2" height="2" fill="rgb(166,166,166)"/><rect x="180.8" y="188.1" width="2" height="2" fill="rgb(172,172,172)"/><rect x="251.5" y="239.6" width="2" height="2" fill="rgb(165,165,165)"/><rect x="219.6" y="216.4" width="2" height="2" fill="rgb(174,174,174)"/><rect x="246.6" y="243.8" width="2" height="2" fill="rgb(187,187,187)"/><rect x="182.6" y="186.4" width="2" height="2" fill="rgb(158,158,158)"/><rect x="169.2" y="176.0" width="2" height="2" fill="rgb(189,189,189)"/><rect x="155.6" y="168.5" width="2" height="2" fill="rgb(162,162,162)"/><rect x="202.6" y="197.1" width="2" height="2" fill="rgb(195,195,195)"/><rect x="198.4" y="200.5" width="2" height="2" fill="rgb(187,187,187)"/><rect x="209.3" y="205.7" width="2" height="2" fill="rgb(173,173,173)"/><rect x="166.4" y="181.1" width="2" height="2" fill="rgb(154,154,154)"/><rect x="185.0" y="190.1" width="2" height="2" fill="rgb(192,192,192)"/><rect x="183.9" y="181.4" width="2" height="2" fill="rgb(163,163,163)"/><rect x="255.2" y="245.0" width="2" height="2" fill="rgb(171,171,171)"/><rect x="185.9" y="188.7" width="2" height="2" fill="rgb(154,154,154)"/><rect x="250.1" y="238.7" width="2" height="2" fill="rgb(155,155,155)"/><rect x="215.4" y="211.2" width="2" height="2" fill="rgb(198,198,198)"/><rect x="246.1" y="230.5" width="2" height="2" fill="rgb(178,178,178)"/><rect x="250.2" y="231.1" width="2" height="2" fill="rgb(174,174,174)"/><rect x="254.5" y="229.5" width="2" height="2" fill="rgb(175,175,175)"/><rect x="175.6" y="177.6" width="2" height="2" fill="rgb(183,183,183)"/><rect x="158.9" y="168.7" width="2" height="2" fill="rgb(176,176,176)"/><rect x="208.3" y="202.4" width="2" height="2" fill="rgb(181,181,181)"/><rect x="233.4" y="237.2" width="2" height="2" fill="rgb(191,191,191)"/><rect x="197.3" y="194.9" width="2" height="2" fill="rgb(198,198,198)"/><rect x="210.6" y="203.9" width="2" height="2" fill="rgb(200,200,200)"/><rect x="199.8" y="214.9" width="2" height="2" fill="rgb(151,151,151)"/><rect x="187.2" y="189.3" width="2" height="2" fill="rgb(156,156,156)"/><rect x="240.1" y="230.6" width="2" height="2" fill="rgb(187,187,187)"/><rect x="230.6" y="225.1" width="2" height="2" fill="rgb(186,186,186)"/><rect x="206.5" y="197.0" width="2" height="2" fill="rgb(179,179,179)"/><rect x="169.4" y="178.9" width="2" height="2" fill="rgb(179,179,179)"/><rect x="231.1" y="237.1" width="2" height="2" fill="rgb(194,194,194)"/><rect x="204.1" y="202.0" width="2" height="2" fill="rgb(177,177,177)"/><rect x="175.2" y="177.3" width="2" height="2" fill="rgb(176,176,176)"/><rect x="276.4" y="244.0" width="2" height="2" fill="rgb(180,180,180)"/><rect x="230.8" y="243.1" width="2" height="2" fill="rgb(161,161,161)"/><rect x="230.9" y="227.5" width="2" height="2" fill="rgb(154,154,154)"/><rect x="239.4" y="242.1" width="2" height="2" fill="rgb(178,178,178)"/><rect x="205.6" y="210.7" width="2" height="2" fill="rgb(175,175,175)"/><rect x="232.8" y="213.9" width="2" height="2" fill="rgb(181,181,181)"/><rect x="178.6" y="186.9" width="2" height="2" fill="rgb(158,158,158)"/><rect x="264.1" y="235.7" width="2" height="2" fill="rgb(182,182,182)"/><rect x="170.7" y="170.1" width="2" height="2" fill="rgb(198,198,198)"/><rect x="189.7" y="198.7" width="2" height="2" fill="rgb(150,150,150)"/><rect x="207.1" y="204.6" width="2" height="2" fill="rgb(192,192,192)"/><rect x="171.8" y="186.0" width="2" height="2" fill="rgb(164,164,164)"/><rect x="206.5" y="200.7" width="2" height="2" fill="rgb(197,197,197)"/><rect x="243.4" y="222.0" width="2" height="2" fill="rgb(162,162,162)"/><rect x="180.9" y="184.4" width="2" height="2" fill="rgb(175,175,175)"/><rect x="255.2" y="242.9" width="2" height="2" fill="rgb(184,184,184)"/><rect x="227.1" y="223.9" width="2" height="2" fill="rgb(152,152,152)"/><rect x="158.1" y="166.0" width="2" height="2" fill="rgb(193,193,193)"/><rect x="236.3" y="235.5" width="2" height="2" fill="rgb(168,168,168)"/><rect x="210.9" y="214.1" width="2" height="2" fill="rgb(185,185,185)"/><rect x="226.2" y="219.9" width="2" height="2" fill="rgb(171,171,171)"/><rect x="206.4" y="206.2" width="2" height="2" fill="rgb(199,199,199)"/><rect x="213.3" y="200.5" width="2" height="2" fill="rgb(174,174,174)"/><rect x="230.3" y="213.5" width="2" height="2" fill="rgb(199,199,199)"/><rect x="242.0" y="230.3" width="2" height="2" fill="rgb(179,179,179)"/><rect x="180.9" y="183.2" width="2" height="2" fill="rgb(157,157,157)"/><rect x="238.3" y="234.2" width="2" height="2" fill="rgb(155,155,155)"/><rect x="233.8" y="241.7" width="2" height="2" fill="rgb(164,164,164)"/><rect x="163.5" y="179.3" width="2" height="2" fill="rgb(154,154,154)"/><rect x="235.0" y="226.4" width="2" height="2" fill="rgb(186,186,186)"/><rect x="214.2" y="214.0" width="2" height="2" fill="rgb(150,150,150)"/><rect x="242.3" y="231.0" width="2" height="2" fill="rgb(156,156,156)"/><rect x="253.7" y="233.9" width="2" height="2" fill="rgb(181,181,181)"/><rect x="209.6" y="204.7" width="2" height="2" fill="rgb(155,155,155)"/><rect x="186.1" y="192.2" width="2" height="2" fill="rgb(198,198,198)"/><rect x="177.7" y="178.4" width="2" height="2" fill="rgb(163,163,163)"/><rect x="248.9" y="246.2" width="2" height="2" fill="rgb(186,186,186)"/><rect x="211.3" y="201.7" width="2" height="2" fill="rgb(179,179,179)"/><rect x="203.1" y="209.2" width="2" height="2" fill="rgb(153,153,153)"/><rect x="181.3" y="181.4" width="2" height="2" fill="rgb(193,193,193)"/><rect x="230.0" y="240.7" width="2" height="2" fill="rgb(162,162,162)"/><rect x="221.7" y="220.2" width="2" height="2" fill="rgb(195,195,195)"/><rect x="196.3" y="200.7" width="2" height="2" fill="rgb(171,171,171)"/><rect x="192.7" y="193.6" width="2" height="2" fill="rgb(180,180,180)"/><rect x="180.5" y="180.0" width="2" height="2" fill="rgb(153,153,153)"/><rect x="183.9" y="190.7" width="2" height="2" fill="rgb(185,185,185)"/><rect x="170.2" y="186.2" width="2" height="2" fill="rgb(194,194,194)"/><rect x="177.2" y="195.7" width="2" height="2" fill="rgb(197,197,197)"/><rect x="206.0" y="226.3" width="2" height="2" fill="rgb(176,176,176)"/><rect x="222.2" y="241.5" width="2" height="2" fill="rgb(187,187,187)"/><rect x="215.9" y="240.3" width="2" height="2" fill="rgb(158,158,158)"/><rect x="162.1" y="179.8" width="2" height="2" fill="rgb(176,176,176)"/><rect x="188.5" y="215.8" width="2" height="2" fill="rgb(153,153,153)"/><rect x="174.9" y="199.7" width="2" height="2" fill="rgb(190,190,190)"/><rect x="179.2" y="204.8" width="2" height="2" fill="rgb(159,159,159)"/><rect x="157.7" y="178.9" width="2" height="2" fill="rgb(170,170,170)"/><rect x="221.8" y="238.7" width="2" height="2" fill="rgb(171,171,171)"/><rect x="177.6" y="192.5" width="2" height="2" fill="rgb(162,162,162)"/><rect x="167.3" y="185.8" width="2" height="2" fill="rgb(183,183,183)"/><rect x="210.7" y="224.7" width="2" height="2" fill="rgb(150,150,150)"/><rect x="27.0" y="30.6" width="2" height="2" fill="rgb(161,161,161)"/><rect x="72.2" y="32.0" width="2" height="2" fill="rgb(184,184,184)"/><rect x="41.9" y="40.6" width="2" height="2" fill="rgb(167,167,167)"/><rect x="67.3" y="44.0" width="2" height="2" fill="rgb(183,183,183)"/><rect x="104.0" y="41.9" width="2" height="2" fill="rgb(166,166,166)"/><rect x="45.6" y="45.4" width="2" height="2" fill="rgb(155,155,155)"/><rect x="46.3" y="49.5" width="2" height="2" fill="rgb(170,170,170)"/><rect x="57.4" y="58.3" width="2" height="2" fill="rgb(174,174,174)"/><rect x="67.3" y="61.3" width="2" height="2" fill="rgb(166,166,166)"/><rect x="65.2" y="64.7" width="2" height="2" fill="rgb(192,192,192)"/><rect x="69.2" y="64.2" width="2" height="2" fill="rgb(169,169,169)"/><rect x="74.9" y="68.4" width="2" height="2" fill="rgb(185,185,185)"/><rect x="71.4" y="73.1" width="2" height="2" fill="rgb(175,175,175)"/><rect x="73.7" y="77.4" width="2" height="2" fill="rgb(182,182,182)"/><rect x="77.7" y="79.4" width="2" height="2" fill="rgb(176,176,176)"/><rect x="84.8" y="70.2" width="2" height="2" fill="rgb(193,193,193)"/><rect x="80.7" y="73.1" width="2" height="2" fill="rgb(153,153,153)"/><rect x="107.6" y="71.2" width="2" height="2" fill="rgb(169,169,169)"/><rect x="79.0" y="55.2" width="2" height="2" fill="rgb(169,169,169)"/><rect x="118.0" y="4.0" width="2" height="2" fill="rgb(165,165,165)"/><rect x="123.6" y="11.9" width="2" height="2" fill="rgb(174,174,174)"/><rect x="132.0" y="11.9" width="2" height="2" fill="rgb(177,177,177)"/><rect x="139.6" y="11.3" width="2" height="2" fill="rgb(184,184,184)"/><rect x="133.2" y="21.4" width="2" height="2" fill="rgb(166,166,166)"/><rect x="130.9" y="23.6" width="2" height="2" fill="rgb(169,169,169)"/><rect x="118.6" y="46.0" width="2" height="2" fill="rgb(162,162,162)"/><rect x="127.0" y="52.2" width="2" height="2" fill="rgb(158,158,158)"/><rect x="73.2" y="77.5" width="2" height="2" fill="rgb(153,153,153)"/><rect x="78.0" y="79.7" width="2" height="2" fill="rgb(163,163,163)"/><rect x="81.0" y="80.5" width="2" height="2" fill="rgb(184,184,184)"/><rect x="82.7" y="78.3" width="2" height="2" fill="rgb(191,191,191)"/><rect x="82.7" y="82.7" width="2" height="2" fill="rgb(173,173,173)"/><rect x="88.0" y="84.9" width="2" height="2" fill="rgb(179,179,179)"/><rect x="86.2" y="87.9" width="2" height="2" fill="rgb(192,192,192)"/><rect x="87.0" y="91.4" width="2" height="2" fill="rgb(181,181,181)"/><rect x="89.3" y="95.7" width="2" height="2" fill="rgb(195,195,195)"/><rect x="83.7" y="83.1" width="2" height="2" fill="rgb(187,187,187)"/><rect x="84.3" y="86.5" width="2" height="2" fill="rgb(159,159,159)"/><rect x="86.8" y="112.3" width="2" height="2" fill="rgb(173,173,173)"/><rect x="105.0" y="106.6" width="2" height="2" fill="rgb(171,171,171)"/><rect x="99.4" y="105.3" width="2" height="2" fill="rgb(162,162,162)"/><rect x="110.1" y="112.9" width="2" height="2" fill="rgb(179,179,179)"/><rect x="97.9" y="124.7" width="2" height="2" fill="rgb(195,195,195)"/><rect x="131.8" y="132.3" width="2" height="2" fill="rgb(185,185,185)"/><rect x="115.3" y="145.7" width="2" height="2" fill="rgb(192,192,192)"/><rect x="149.2" y="141.8" width="2" height="2" fill="rgb(153,153,153)"/><rect x="154.9" y="149.2" width="2" height="2" fill="rgb(196,196,196)"/><rect x="107.4" y="135.7" width="2" height="2" fill="rgb(170,170,170)"/><rect x="111.6" y="138.2" width="2" height="2" fill="rgb(150,150,150)"/><rect x="114.9" y="145.8" width="2" height="2" fill="rgb(184,184,184)"/><rect x="125.8" y="146.6" width="2" height="2" fill="rgb(154,154,154)"/><rect x="126.7" y="151.6" width="2" height="2" fill="rgb(176,176,176)"/><rect x="130.9" y="152.5" width="2" height="2" fill="rgb(186,186,186)"/><rect x="133.4" y="153.3" width="2" height="2" fill="rgb(170,170,170)"/><rect x="135.1" y="169.3" width="2" height="2" fill="rgb(152,152,152)"/><rect x="154.4" y="150.0" width="2" height="2" fill="rgb(167,167,167)"/><rect x="144.3" y="155.8" width="2" height="2" fill="rgb(164,164,164)"/><rect x="134.0" y="217.5" width="2" height="2" fill="rgb(200,200,200)"/><rect x="159.6" y="175.3" width="2" height="2" fill="rgb(178,178,178)"/><rect x="170.2" y="190.4" width="2" height="2" fill="rgb(168,168,168)"/><rect x="175.5" y="187.2" width="2" height="2" fill="rgb(162,162,162)"/><rect x="172.8" y="221.7" width="2" height="2" fill="rgb(195,195,195)"/><rect x="180.3" y="224.9" width="2" height="2" fill="rgb(163,163,163)"/><rect x="167.3" y="153.6" width="2" height="2" fill="rgb(187,187,187)"/><rect x="170.3" y="156.2" width="2" height="2" fill="rgb(189,189,189)"/><rect x="165.1" y="155.3" width="2" height="2" fill="rgb(179,179,179)"/><rect x="212.0" y="179.9" width="2" height="2" fill="rgb(175,175,175)"/><rect x="222.0" y="182.5" width="2" height="2" fill="rgb(196,196,196)"/><rect x="211.7" y="179.8" width="2" height="2" fill="rgb(178,178,178)"/><rect x="246.0" y="207.7" width="2" height="2" fill="rgb(163,163,163)"/><rect x="249.9" y="213.8" width="2" height="2" fill="rgb(163,163,163)"/>
<path d="M23.9,42.3 27.2,43.4 32.4,45.0 39.4,47.6 45.0,51.5 48.5,54.1 52.0,56.7 50.9,54.2 51.8,52.6 53.5,51.7 56.3,51.3 60.7,51.8 65.0,53.3 69.8,56.4 74.1,60.3 77.6,64.3 81.1,69.0 85.5,75.0 89.8,80.2 92.5,84.3 96.0,89.8 100.0,95.0 105.0,101.0 110.0,106.7 113.3,110.0 125.0,121.7 128.0,125.0 142.0,138.0 147.5,143.4 150.5,145.6 153.0,146.7 160.0,149.2 170.0,152.9 180.0,157.0 186.0,159.2 189.5,160.4 193.0,162.4 201.7,167.2 210.0,172.0 220.0,178.1 230.0,184.0 240.0,190.3 247.0,194.8 255.0,199.4 265.0,204.9 280.0,212.5 290.5,218.0 296.5,221.3 301.2,224.0 305.9,228.7 308.3,233.4 310.2,236.3 316.3,239.6 321.0,242.2 324.7,244.5" fill="none" stroke="#111" stroke-width="1" stroke-linejoin="round"/>
<path d="M23.9,42.3 32.4,49.3 39.4,54.5 45.0,58.7 50.0,62.4" fill="none" stroke="#111" stroke-width="1.25" stroke-linejoin="round"/>
<path d="M50.0,62.4 55.2,64.2 62.5,68.7 65.4,70.8 70.0,75.8 77.2,84.0 82.0,89.0 86.2,93.3 91.2,99.3 95.7,104.8 101.1,110.0 106.0,115.0 112.3,121.2 118.0,126.5 125.0,132.3 135.0,140.8 143.6,148.6 152.4,154.0 160.0,157.2 165.0,158.8 170.0,160.6 180.0,164.1 185.0,165.8 188.7,167.0 193.0,169.5 201.7,175.0 207.0,178.6 215.0,183.6 230.0,194.0 247.0,204.8 255.0,209.8 265.0,215.8 275.2,221.5 288.0,229.2 297.4,233.9 303.1,238.2 307.8,242.9 312.1,247.3" fill="none" stroke="#111" stroke-width="1" stroke-linejoin="round"/>
<path d="M50.0,62.4 55.2,64.6 61.8,69.2 64.5,72.8 68.2,78.0 71.6,82.0 75.0,87.0 78.3,92.0 81.2,96.0 83.8,100.0 90.9,110.0 97.2,120.0 98.9,122.5 105.0,127.5 112.2,131.9 120.0,137.5 126.3,142.8 133.2,148.0 140.0,152.0 150.0,156.5 160.0,160.2 165.0,162.4 175.0,165.3 180.0,166.8 186.0,170.0 192.2,174.3 200.0,179.3 210.0,185.8 221.7,193.5 225.0,197.5 235.0,203.8 245.0,210.0 255.0,216.5 262.0,221.5 275.0,229.5 288.0,236.9 295.5,240.2 301.2,243.6 305.0,247.5" fill="none" stroke="#111" stroke-width="1" stroke-linejoin="round"/>
<path d="M50.0,62.4 55.2,65.1 61.0,69.8 63.6,73.4 67.5,78.5 70.9,82.0 74.3,87.0 77.6,92.0 80.5,96.0 83.2,100.0 90.4,110.0 96.4,120.0 99.6,124.4 105.0,129.5 112.2,133.8 120.0,139.3 126.3,144.6 133.2,149.0 140.0,152.5 150.0,158.0 156.7,161.5 165.0,165.0 175.0,168.5 182.4,171.3 186.4,174.2 190.0,178.0 200.0,183.7 214.8,193.8 225.0,201.0 240.0,211.5 254.0,221.5 262.0,226.8 275.0,234.5 288.0,242.0 293.7,244.5 297.0,248.0" fill="none" stroke="#111" stroke-width="1" stroke-linejoin="round"/>
<path d="M50.0,62.4 55.2,65.8 60.3,70.5 62.5,74.1 66.0,78.5 69.4,82.0 72.5,86.5 76.0,91.5 79.0,96.0 81.9,100.0 89.2,110.0 94.5,120.0 99.9,127.2 105.0,131.5 112.2,136.2 120.0,141.5 125.4,146.0 133.2,150.0 140.0,153.2 150.0,159.0 156.7,162.5 165.0,166.3 175.0,170.0 182.0,172.5 186.0,175.0 190.0,180.0 200.0,187.0 209.6,194.0 225.0,205.0 237.0,214.5 250.5,225.3 262.0,232.2 270.0,237.5 283.7,246.5 286.0,248.0" fill="none" stroke="#111" stroke-width="1" stroke-linejoin="round"/>
<circle cx="84.6" cy="94.8" r="1.50" fill="#4fb02a"/><ellipse cx="89.6" cy="101.1" rx="2.25" ry="1.75" fill="#4fb02a"/><ellipse cx="93.5" cy="105" rx="2.25" ry="1.75" fill="#4fb02a"/><circle cx="96.5" cy="109.8" r="1.75" fill="#4fb02a"/><ellipse cx="100.6" cy="101.9" rx="2.75" ry="2.00" fill="#4fb02a"/><circle cx="109.1" cy="108.9" r="1.75" fill="#4fb02a"/><circle cx="100" cy="116.3" r="1.75" fill="#4fb02a"/><circle cx="107" cy="115.4" r="1.75" fill="#4fb02a"/><circle cx="85.2" cy="95.9" r="1.50" fill="#4fb02a"/><circle cx="99.8" cy="116.1" r="1.75" fill="#4fb02a"/><ellipse cx="107.2" cy="115.2" rx="2.25" ry="1.75" fill="#4fb02a"/><circle cx="107.6" cy="118.3" r="1.75" fill="#4fb02a"/><circle cx="114.6" cy="125.7" r="1.75" fill="#4fb02a"/><circle cx="115.9" cy="127.4" r="1.75" fill="#4fb02a"/><circle cx="121.1" cy="130.9" r="1.75" fill="#4fb02a"/><circle cx="113.3" cy="125.2" r="1.75" fill="#4fb02a"/><circle cx="95.9" cy="110" r="1.50" fill="#4fb02a"/><circle cx="102.8" cy="118" r="1.75" fill="#4fb02a"/><circle cx="115.4" cy="128" r="1.50" fill="#4fb02a"/><circle cx="118.9" cy="130.2" r="1.75" fill="#4fb02a"/><circle cx="123.7" cy="132.4" r="1.75" fill="#4fb02a"/><circle cx="135.9" cy="141.5" r="1.75" fill="#4fb02a"/><circle cx="135.9" cy="141.9" r="1.75" fill="#4fb02a"/><circle cx="162" cy="153.7" r="1.75" fill="#4fb02a"/><circle cx="165.7" cy="144.1" r="1.75" fill="#4fb02a"/><circle cx="93.3" cy="104.8" r="1.75" fill="#4fb02a"/><circle cx="87.3" cy="106.9" r="1.50" fill="#4fb02a"/>
<circle cx="143.6" cy="147.6" r="1.50" fill="#5cb8f4"/><circle cx="66.1" cy="69.7" r="1.25" fill="#5cb8f4"/><circle cx="77.4" cy="86" r="1.50" fill="#5cb8f4"/><circle cx="79.5" cy="90.6" r="1.50" fill="#5cb8f4"/><circle cx="85.6" cy="99.6" r="1.75" fill="#5cb8f4"/><circle cx="86.2" cy="101.8" r="1.75" fill="#5cb8f4"/><circle cx="88.3" cy="105.4" r="1.75" fill="#5cb8f4"/><circle cx="92.2" cy="109.3" r="1.75" fill="#5cb8f4"/><circle cx="96.5" cy="114.6" r="1.75" fill="#5cb8f4"/><circle cx="81.3" cy="96.7" r="1.50" fill="#5cb8f4"/><circle cx="88.4" cy="105.8" r="1.50" fill="#5cb8f4"/><circle cx="91.8" cy="108.6" r="1.50" fill="#5cb8f4"/><circle cx="95.9" cy="114.8" r="2.00" fill="#5cb8f4"/><circle cx="121.1" cy="133.5" r="1.75" fill="#5cb8f4"/><circle cx="121.5" cy="134.6" r="1.75" fill="#5cb8f4"/><circle cx="124.6" cy="136.7" r="1.75" fill="#5cb8f4"/><circle cx="127.6" cy="138.5" r="1.75" fill="#5cb8f4"/><circle cx="131.1" cy="142" r="1.75" fill="#5cb8f4"/><circle cx="138" cy="146.7" r="1.75" fill="#5cb8f4"/><circle cx="137.6" cy="146.7" r="1.75" fill="#5cb8f4"/><circle cx="153.7" cy="156.3" r="1.75" fill="#5cb8f4"/><circle cx="159.8" cy="158.9" r="1.75" fill="#5cb8f4"/><circle cx="163.7" cy="161" r="1.75" fill="#5cb8f4"/><circle cx="165.2" cy="160.7" r="1.75" fill="#5cb8f4"/><circle cx="171.3" cy="165.9" r="1.75" fill="#5cb8f4"/><circle cx="173.9" cy="166.5" r="1.75" fill="#5cb8f4"/><circle cx="179.6" cy="168.8" r="1.75" fill="#5cb8f4"/><circle cx="180.4" cy="169.8" r="1.75" fill="#5cb8f4"/><circle cx="183.9" cy="173.3" r="1.75" fill="#5cb8f4"/><circle cx="184.1" cy="173" r="1.75" fill="#5cb8f4"/><circle cx="195.1" cy="178.2" r="1.75" fill="#5cb8f4"/><circle cx="195.2" cy="178" r="1.75" fill="#5cb8f4"/><circle cx="209.6" cy="176.3" r="1.75" fill="#5cb8f4"/><circle cx="210.6" cy="176.6" r="2.00" fill="#5cb8f4"/><circle cx="221.4" cy="175.5" r="2.00" fill="#5cb8f4"/><circle cx="211.5" cy="185.6" r="1.75" fill="#5cb8f4"/><circle cx="215.2" cy="189.2" r="2.50" fill="#5cb8f4"/><circle cx="220.9" cy="193.1" r="1.75" fill="#5cb8f4"/><circle cx="225.4" cy="196.3" r="1.75" fill="#5cb8f4"/>
<circle cx="143.6" cy="147.6" r="1.50" fill="#1e1ee6"/><circle cx="68.2" cy="77.5" r="1.25" fill="#1e1ee6"/><circle cx="78.5" cy="88.5" r="1.50" fill="#1e1ee6"/><circle cx="82.8" cy="90.6" r="1.50" fill="#1e1ee6"/><circle cx="79.1" cy="88.6" r="1.50" fill="#1e1ee6"/><circle cx="95.2" cy="94.3" r="1.75" fill="#1e1ee6"/><circle cx="104.5" cy="103.4" r="1.75" fill="#1e1ee6"/><circle cx="108.6" cy="108.4" r="1.50" fill="#1e1ee6"/><circle cx="83.4" cy="98.5" r="1.50" fill="#1e1ee6"/><circle cx="90.7" cy="106.3" r="1.50" fill="#1e1ee6"/><circle cx="83.5" cy="98.5" r="1.50" fill="#1e1ee6"/><circle cx="90.9" cy="106.3" r="1.50" fill="#1e1ee6"/><circle cx="95.2" cy="112" r="1.50" fill="#1e1ee6"/><circle cx="106.1" cy="113.7" r="1.50" fill="#1e1ee6"/><circle cx="107.8" cy="110.7" r="1.50" fill="#1e1ee6"/><circle cx="95.2" cy="95.4" r="1.50" fill="#1e1ee6"/><circle cx="105.6" cy="113.6" r="1.50" fill="#1e1ee6"/><circle cx="112.8" cy="120.2" r="1.75" fill="#1e1ee6"/><circle cx="104" cy="124.4" r="1.25" fill="#1e1ee6"/><circle cx="106.4" cy="128.4" r="1.25" fill="#1e1ee6"/><circle cx="116" cy="132.5" r="1.50" fill="#1e1ee6"/><circle cx="118" cy="127.4" r="1.50" fill="#1e1ee6"/><circle cx="122" cy="128.7" r="1.50" fill="#1e1ee6"/><circle cx="117.6" cy="126.7" r="1.50" fill="#1e1ee6"/><circle cx="122" cy="128.9" r="1.50" fill="#1e1ee6"/><circle cx="128" cy="131.1" r="1.75" fill="#1e1ee6"/><circle cx="132.8" cy="137.9" r="1.75" fill="#1e1ee6"/><circle cx="116.7" cy="133.7" r="1.50" fill="#1e1ee6"/><circle cx="118.5" cy="135.9" r="1.50" fill="#1e1ee6"/><circle cx="159.3" cy="156.7" r="1.50" fill="#1e1ee6"/><circle cx="159.3" cy="161" r="1.50" fill="#1e1ee6"/><circle cx="176.8" cy="164.1" r="1.75" fill="#1e1ee6"/><circle cx="196.5" cy="167.9" r="1.75" fill="#1e1ee6"/><circle cx="226.5" cy="179.2" r="1.75" fill="#1e1ee6"/><circle cx="212.5" cy="187.6" r="1.25" fill="#1e1ee6"/><circle cx="229.6" cy="195.3" r="1.75" fill="#1e1ee6"/><circle cx="113" cy="120.4" r="1.50" fill="#1e1ee6"/>
<path d="M71.6,82.2L77.2,87.8M71.6,87.8L77.2,82.2" stroke="#d0141e" stroke-width="1.4" fill="none"/><path d="M78.7,91.7L84.3,97.3M78.7,97.3L84.3,91.7" stroke="#d0141e" stroke-width="1.4" fill="none"/><path d="M97.1,118.2L102.5,123.6M97.1,123.6L102.5,118.2" stroke="#d0141e" stroke-width="1.4" fill="none"/><path d="M101.3,118.5L106.7,123.9M101.3,123.9L106.7,118.5" stroke="#d0141e" stroke-width="1.4" fill="none"/><path d="M62.6,73.8H71.6M67.1,70.4V77.2M63.7,70.4L70.5,77.2M63.7,77.2L70.5,70.4" stroke="#d0141e" stroke-width="1.6" fill="none"/><circle cx="67.1" cy="73.8" r="1.80" fill="#d0141e"/><path d="M106.1,125.6L112.3,131.8M106.1,131.8L112.3,125.6" stroke="#f0c030" stroke-width="1.4" fill="none"/><path d="M140.2,144.1L145.4,149.3M140.2,149.3L145.4,144.1" stroke="#cc10f0" stroke-width="1.9" fill="none"/><path d="M140.60000000000002,146.7H145.0" stroke="#cc10f0" stroke-width="1.6"/>
</g>
<path d="M21.2 4.0H25.3M23 9.4H25.3M23 14.8H25.3M23 20.3H25.3M23 25.7H25.3M23 31.1H25.3M23 36.5H25.3M23 42.0H25.3M21.2 47.4H25.3M23 52.8H25.3M23 58.2H25.3M23 63.7H25.3M23 69.1H25.3M23 74.5H25.3M23 80.0H25.3M23 85.4H25.3M21.2 90.8H25.3M23 96.2H25.3M23 101.6H25.3M23 107.1H25.3M23 112.5H25.3M23 117.9H25.3M23 123.3H25.3M23 128.8H25.3M21.2 134.2H25.3M23 139.6H25.3M23 145.0H25.3M23 150.5H25.3M23 155.9H25.3M23 161.3H25.3M23 166.8H25.3M23 172.2H25.3M21.2 177.6H25.3M23 183.0H25.3M23 188.4H25.3M23 193.9H25.3M23 199.3H25.3M23 204.7H25.3M23 210.2H25.3M23 215.6H25.3M21.2 221.0H25.3M23 226.4H25.3M23 231.8H25.3M23 237.3H25.3M23 242.7H25.3M23.3 245.9V250.2M31.5 245.9V248M39.8 245.9V248M48.0 245.9V248M56.3 245.9V248M64.5 245.9V248M72.7 245.9V248M81.0 245.9V248M89.2 245.9V248M97.5 245.9V248M105.7 245.9V250.2M113.9 245.9V248M122.2 245.9V248M130.4 245.9V248M138.7 245.9V248M146.9 245.9V248M155.1 245.9V248M163.4 245.9V248M171.6 245.9V248M179.9 245.9V248M188.1 245.9V250.2M196.3 245.9V248M204.6 245.9V248M212.8 245.9V248M221.1 245.9V248M229.3 245.9V248M237.5 245.9V248M245.8 245.9V248M254.0 245.9V248M262.3 245.9V248M270.5 245.9V250.2M278.7 245.9V248M287.0 245.9V248M295.2 245.9V248M303.5 245.9V248M311.7 245.9V248M319.9 245.9V248M328.2 245.9V248M336.4 245.9V248M344.7 245.9V248M352.9 245.9V250.2" stroke="#000" stroke-width="0.9" fill="none"/>
<rect x="22.9" y="3.9" width="332.4" height="244.1" fill="none" stroke="#000" stroke-width="1.4"/>
<g font-size="9.4" text-anchor="end">
<text x="21.4" y="8.6">0</text>
<text x="21.4" y="52.0">2</text>
<text x="21.4" y="95.4">4</text>
<text x="21.4" y="138.8">6</text>
<text x="21.4" y="182.2">8</text>
<text x="21.4" y="225.6">10</text>
</g>
<g font-size="9.4" text-anchor="middle">
<text x="23.3" y="260.1">0</text>
<text x="105.7" y="260.1">1</text>
<text x="188.1" y="260.1">2</text>
<text x="270.5" y="260.1">3</text>
<text x="352.9" y="260.1">4</text>
</g>
<text x="189.3" y="272.3" font-size="8.45" text-anchor="middle">BP-RP (mag)</text>
<text transform="translate(7.4,126.7) rotate(-90)" font-size="8.35" text-anchor="middle">Absolute G Mag (mag)</text>
<text x="289.4" y="211.4" font-size="6.1">10 Myr</text>
<g font-size="8.3">
<text x="228" y="17.3">Gaia EDR3 field</text>
<text x="228" y="30.4">Isochrones</text>
<text x="228" y="43.5">Columba (Lee &amp; Song 2019a)</text>
<text x="228" y="56.6">Carina (Lee &amp; Song 2019a)</text>
<text x="228" y="69.7">Tuc-Hor (Lee &amp; Song 2019a)</text>
<text x="228" y="82.8">Proposed new member with disk</text>
<text x="228" y="95.9">HD274311</text>
<text x="228" y="109.0">J0925</text>
</g>
<circle cx="218.3" cy="11.2" r="1.75" fill="#b0b0b0"/>
<line x1="211" y1="24.3" x2="225.3" y2="24.3" stroke="#000" stroke-width="1.2"/>
<path d="M213.9,37.8H222.9M218.4,34.5V41.099999999999994" stroke="#1e1ee6" stroke-width="1.15"/><path d="M216.0,37.8L218.4,35.699999999999996L220.8,37.8L218.4,39.9Z" fill="#1e1ee6"/><path d="M213.9,50.9H222.9M218.4,47.6V54.199999999999996" stroke="#4fb02a" stroke-width="1.15"/><path d="M216.0,50.9L218.4,48.8L220.8,50.9L218.4,53.0Z" fill="#4fb02a"/><path d="M213.9,64.0H222.9M218.4,60.7V67.3" stroke="#5cb8f4" stroke-width="1.15"/><path d="M216.0,64.0L218.4,61.9L220.8,64.0L218.4,66.1Z" fill="#5cb8f4"/>
<path d="M213.7,77.5H223.1M218.4,74.0V81.0M214.9,74.0L221.9,81.0M214.9,81.0L221.9,74.0" stroke="#d0141e" stroke-width="1.4" fill="none"/><circle cx="218.4" cy="77.5" r="1.88" fill="#d0141e"/><path d="M213.8,90.5H222.8M218.3,87.1V93.9M214.9,87.1L221.7,93.9M214.9,93.9L221.7,87.1" stroke="#f0c030" stroke-width="1.4" fill="none"/><circle cx="218.3" cy="90.5" r="1.80" fill="#f0c030"/><path d="M213.8,103.6H222.8M218.3,100.2V107.0M214.9,100.2L221.7,107.0M214.9,107.0L221.7,100.2" stroke="#cc10f0" stroke-width="1.4" fill="none"/><circle cx="218.3" cy="103.6" r="1.80" fill="#cc10f0"/>
</svg>
</body></html>
